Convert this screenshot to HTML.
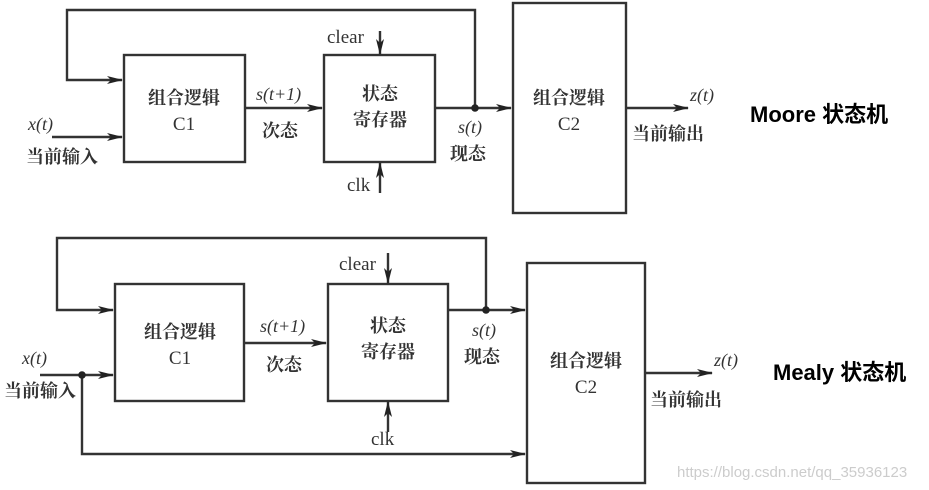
<!DOCTYPE html>
<html><head><meta charset="utf-8"><style>
html,body{margin:0;padding:0;background:#fff;}
svg{display:block}
.t{font-family:"Liberation Serif","Noto Serif CJK SC",serif;font-size:19px;fill:#333;}
.c{font-family:"Liberation Serif","Noto Serif CJK SC",serif;font-size:18px;fill:#333;font-weight:bold}
.i{font-family:"Liberation Serif",serif;font-style:italic;font-size:18px;fill:#333;}
.b{font-family:"Liberation Sans","Noto Sans CJK SC",sans-serif;font-weight:bold;font-size:22px;fill:#000;}
</style></head><body>
<svg width="929" height="490" viewBox="0 0 929 490" xmlns="http://www.w3.org/2000/svg">
<defs><marker id="a" markerWidth="16" markerHeight="10" refX="15" refY="5" orient="auto" markerUnits="userSpaceOnUse"><path d="M0,1 L16,5 L0,9 L4,5z" fill="#222"/></marker></defs>
<g stroke="#333" stroke-width="2.4" fill="none">
<!-- Moore -->
<rect x="124" y="55" width="121" height="107"/>
<rect x="324" y="55" width="111" height="107"/>
<rect x="513" y="3" width="113" height="210"/>
<polyline points="475,108 475,10 67,10 67,80 122,80" marker-end="url(#a)"/>
<line x1="52" y1="137" x2="122" y2="137" marker-end="url(#a)"/>
<line x1="245" y1="108" x2="322" y2="108" marker-end="url(#a)"/>
<line x1="380" y1="31" x2="380" y2="54" marker-end="url(#a)"/>
<line x1="380" y1="193" x2="380" y2="163" marker-end="url(#a)"/>
<line x1="435" y1="108" x2="511" y2="108" marker-end="url(#a)"/>
<line x1="626" y1="108" x2="688" y2="108" marker-end="url(#a)"/>
<!-- Mealy -->
<rect x="115" y="284" width="129" height="117"/>
<rect x="328" y="284" width="120" height="117"/>
<rect x="527" y="263" width="118" height="220"/>
<polyline points="486,310 486,238 57,238 57,310 113,310" marker-end="url(#a)"/>
<line x1="40" y1="375" x2="113" y2="375" marker-end="url(#a)"/>
<polyline points="82,375 82,454 525,454" marker-end="url(#a)"/>
<line x1="244" y1="343" x2="326" y2="343" marker-end="url(#a)"/>
<line x1="388" y1="253" x2="388" y2="283" marker-end="url(#a)"/>
<line x1="388" y1="432" x2="388" y2="402" marker-end="url(#a)"/>
<line x1="448" y1="310" x2="525" y2="310" marker-end="url(#a)"/>
<line x1="645" y1="373" x2="712" y2="373" marker-end="url(#a)"/>
</g>
<g fill="#222"><circle cx="475" cy="108" r="3.8"/><circle cx="486" cy="310" r="3.8"/><circle cx="82" cy="375" r="3.8"/></g>
<!-- Moore text -->
<text class="c" x="184" y="104" text-anchor="middle">组合逻辑</text>
<text class="t" x="184" y="130" text-anchor="middle">C1</text>
<text class="c" x="380" y="100" text-anchor="middle">状态</text>
<text class="c" x="380" y="126" text-anchor="middle">寄存器</text>
<text class="c" x="569" y="104" text-anchor="middle">组合逻辑</text>
<text class="t" x="569" y="130" text-anchor="middle">C2</text>
<text class="i" x="28" y="130">x(t)</text>
<text class="c" x="26" y="163">当前输入</text>
<text class="i" x="256" y="100">s(t+1)</text>
<text class="c" x="262" y="137">次态</text>
<text class="t" x="327" y="43">clear</text>
<text class="t" x="347" y="191">clk</text>
<text class="i" x="458" y="133">s(t)</text>
<text class="c" x="450" y="160">现态</text>
<text class="i" x="690" y="101">z(t)</text>
<text class="c" x="632" y="140">当前输出</text>
<text class="b" x="750" y="122">Moore 状态机</text>
<!-- Mealy text -->
<text class="c" x="180" y="338" text-anchor="middle">组合逻辑</text>
<text class="t" x="180" y="364" text-anchor="middle">C1</text>
<text class="c" x="388" y="332" text-anchor="middle">状态</text>
<text class="c" x="388" y="358" text-anchor="middle">寄存器</text>
<text class="c" x="586" y="367" text-anchor="middle">组合逻辑</text>
<text class="t" x="586" y="393" text-anchor="middle">C2</text>
<text class="i" x="22" y="364">x(t)</text>
<text class="c" x="4" y="397">当前输入</text>
<text class="i" x="260" y="332">s(t+1)</text>
<text class="c" x="266" y="371">次态</text>
<text class="t" x="339" y="270">clear</text>
<text class="t" x="371" y="445">clk</text>
<text class="i" x="472" y="336">s(t)</text>
<text class="c" x="464" y="363">现态</text>
<text class="i" x="714" y="366">z(t)</text>
<text class="c" x="650" y="406">当前输出</text>
<text class="b" x="773" y="380">Mealy 状态机</text>
<text x="677" y="477" font-family="Liberation Sans,sans-serif" font-size="15" fill="#ccc">https://blog.csdn.net/qq_35936123</text>
</svg>
</body></html>
